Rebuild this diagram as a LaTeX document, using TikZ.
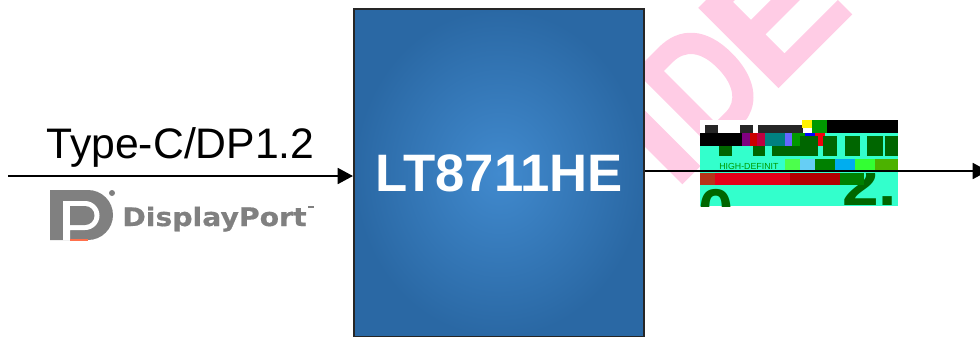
\documentclass[tikz,border=0pt]{standalone}
\usepackage{fontspec}
\usepackage{xcolor}
\usetikzlibrary{arrows.meta}
\setmainfont{Liberation Sans}
\newfontfamily\wmfont[FakeBold=1.5]{Liberation Sans Bold}
\newfontfamily\dpfont[FakeBold=0.6]{DejaVu Sans Bold}
\definecolor{wmpink}{HTML}{FFCCE5}
\definecolor{chipin}{HTML}{418ACE}
\definecolor{chipout}{HTML}{2A68A4}
\definecolor{logogray}{HTML}{808080}
\definecolor{hdmicyan}{HTML}{33FFCC}
\definecolor{hdmigreen}{HTML}{006600}
\tikzset{
  chipbox/.style={draw=black!85,line width=1.2pt,inner sep=0pt,minimum width=5.80cm,minimum height=6.56cm,inner color=chipin,outer color=chipout},
  wire/.style={draw=black,line width=1.25pt,-{Triangle[length=8.7pt,width=9pt]}},
  hb/.style={fill=hdmigreen},
}
\begin{document}
\begin{tikzpicture}[x=0.02cm,y=0.02cm]
\useasboundingbox (0,0) rectangle (980,-336);
\clip (0,0) rectangle (980,-336);
% watermark
\node [anchor=base west,rotate=45,inner sep=0pt,text=wmpink,font=\wmfont\fontsize{92pt}{92pt}\selectfont] (wmark) at (674.5,-190.5) {I\kern2pt\scalebox{0.8}[1]{D}\kern-4pt\scalebox{1.12}[1]{E}};
% chip
\node [chipbox,anchor=north west,text=white,font=\bfseries\fontsize{30pt}{30pt}\selectfont] (chip) at (353,-8) {LT8711HE};
% HDMI picture
\fill [white] (700,-120) rectangle (898,-133);
\fill [hdmicyan] (700,-133) rectangle (898,-206);
\fill [black!85] (705,-125) rectangle (718,-133);
\fill [black!85] (740,-125) rectangle (753,-133);
\fill [black!85] (758,-125) rectangle (803,-133);
\fill [black] (827,-120) rectangle (898,-133);
\fill [green!60!black] (812,-120) rectangle (827,-133);
\fill [yellow] (802,-120) rectangle (812,-128);
\fill [black] (700,-133) rectangle (742,-146);
\foreach \xa/\xb/\cc in {742/750/violet,750/757/red!80!black,757/765/purple,765/785/teal,785/792/blue!60,792/805/green!60!black,805/815/blue,815/825/red!80!purple}
  \fill [\cc] (\xa,-133) rectangle (\xb,-146);
\foreach \xa/\xb in {719/732,753/765,772/800}
  \fill [hb] (\xa,-146) rectangle (\xb,-156);
\foreach \xa/\xb in {800/818,823/837,845/860,867/883,885/898}
  \fill [hb] (\xa,-136) rectangle (\xb,-156);
\node [anchor=west,inner sep=0pt,text=green!60!black,font=\fontsize{5pt}{5pt}\selectfont] (hdmitag) at (719,-166) {HIGH-DEFINIT};
\foreach \xa/\xb/\cc in {785/800/green!70,800/815/cyan!60,815/835/green!50!black,835/855/cyan,855/875/green!80,875/898/red!30!green}
  \fill [\cc] (\xa,-159) rectangle (\xb,-171);
\begin{scope}
\clip (700,-173) rectangle (898,-206);
\node [anchor=base west,inner sep=0pt,text=hdmigreen,font=\bfseries\fontsize{36pt}{36pt}\selectfont] (hdmizero) at (698,-233) {0};
\node [anchor=base west,inner sep=0pt,text=hdmigreen,font=\bfseries\fontsize{34pt}{34pt}\selectfont] (hdmitwo) at (842,-205) {\scalebox{1.1}[1]{2.}};
\end{scope}
\fill [red!70!black!60!brown] (700,-173) rectangle (715,-185);
\fill [red!80!violet] (715,-173) rectangle (790,-185);
\fill [red!70!black] (790,-173) rectangle (840,-185);
\fill [green!50!black] (840,-173) rectangle (864,-185);
% connectors
\coordinate (inA) at (8,-176);
\coordinate (outB) at (988,-171);
\draw [wire] (inA) -- (inA -| chip.west);
\draw [wire] (chip.east |- outB) -- (outB);
\node [anchor=base,inner sep=0pt,font=\fontsize{24.3pt}{24.3pt}\selectfont] (dptext) at (180.5,-158) {Type-C/DP1.2};
% DisplayPort logo
\fill [logogray] (50,-190) -- (88,-190) arc (90:-90:25) -- (50,-240) -- cycle;
\fill [white] (63,-240) -- (63,-201) -- (85,-201) arc (90:-90:14.5) -- (70,-230) -- (70,-240) -- cycle;
\fill [logogray] (70,-206) -- (85,-206) arc (90:-90:9.5) -- (70,-225) -- cycle;
\fill [logogray] (112,-193) circle (3);
\fill [red!60!orange!70] (70,-239) rectangle (88,-240.5);
\fill [logogray] (308,-206) rectangle (314,-208);
\node [anchor=base west,inner sep=0pt,text=logogray,font=\dpfont\fontsize{14.5pt}{14.5pt}\selectfont] (dplogo) at (122,-226) {\scalebox{1.11}[1]{DisplayPort}};
\end{tikzpicture}
\end{document}
